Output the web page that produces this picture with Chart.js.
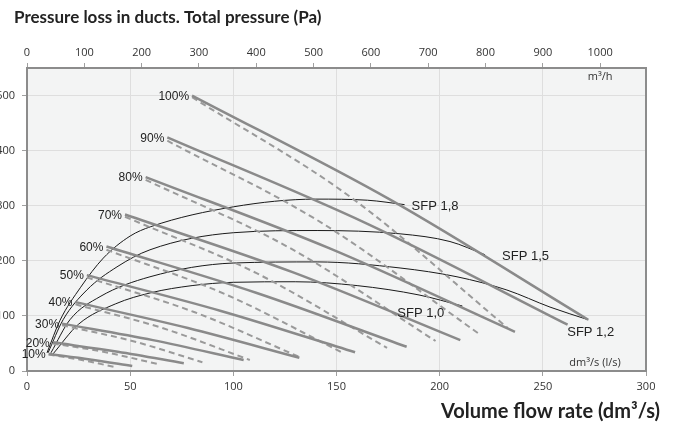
<!DOCTYPE html>
<html>
<head>
<meta charset="utf-8">
<script src="https://cdn.jsdelivr.net/npm/chart.js@4.4.1/dist/chart.umd.min.js"></script>
<style>
  html, body { margin: 0; padding: 0; background: #fff; }
  #wrap { position: relative; width: 675px; height: 428px; overflow: hidden; }
  #chart { position: absolute; left: -15px; top: 0; }
</style>
</head>
<body>
<div id="wrap"><canvas id="chart" width="690" height="428"></canvas></div>
<script>
// Fan curves per control step (solid / dashed) and SFP iso-lines.
const SPEEDS = ["10%", "20%", "30%", "40%", "50%", "60%", "70%", "80%", "90%", "100%"];

// flow in dm3/s, pressure in Pa (start, middle, end)
const SOLID_FLOW = [[10.5, 30.5, 51], [12.5, 44, 76], [17, 61, 105], [23.5, 78, 132], [29, 94, 159],
  [38.5, 111, 184], [47.5, 129, 210], [57.5, 147, 236.5], [68, 165, 262], [80, 176, 272]];
const SOLID_PA = [[31, 21, 9], [52, 35, 14], [86, 56, 20], [125, 78, 24], [174, 109, 34],
  [226, 142, 44], [284, 179, 56], [352, 222, 71], [424, 267, 84], [500, 311, 93]];

const DASHED_FLOW = [[10.5, 26.5, 42.7], [12.5, 37.5, 63], [17, 51, 85], [23.5, 66, 108], [29, 81, 133],
  [38.5, 96, 153], [47.5, 111, 174.5], [57.5, 128, 198], [68, 143, 218.5], [80, 156.5, 233]];
const DASHED_PA = [[30, 20, 7], [50, 34.5, 13], [83, 54.5, 16], [121, 77.5, 20], [170, 107, 24],
  [220, 139.5, 33], [280, 178, 42], [347, 222, 54.5], [418, 268.5, 69], [497, 316.5, 78]];

const SFP_NAMES = ["SFP 1,8", "SFP 1,5", "SFP 1,2", "SFP 1,0"];
const SFP_FLOW = [
  [9.7, 16, 26, 37, 50, 60, 100, 140, 165, 183],
  [10.2, 17.5, 29, 43.6, 59.6, 100, 140.6, 180.8, 205, 222],
  [11.6, 20.8, 35.4, 59.6, 100, 140.6, 180.8, 208.4, 232.6, 253.5, 272],
  [12.6, 25, 43, 60, 80, 100, 130, 160, 190, 211],
];
const SFP_PA = [
  [33, 92, 152, 205, 245, 262, 298, 312, 310, 302],
  [33, 93, 147, 189, 220, 251, 255, 249, 235, 211],
  [33, 93, 135, 171, 196, 198, 187, 171, 147, 116, 93],
  [31, 85, 122, 142, 155, 161, 162, 155, 138, 118],
];

const FLOW_MAX = 300;      // dm3/s
const FLOW_MAX_M3H = 1080; // same span in m3/h
const PA_MAX = 550;

// label offsets (px) from the end of each SFP curve
const SFP_LABEL_OFFSET = [[7, 2], [17, 2], [-21, 13], [-65, 7]];

const pts = (xs, ys) => xs.map((x, i) => ({ x, y: ys[i] }));

const datasets = [];
SPEEDS.forEach((s, i) => {
  datasets.push({ label: s, data: pts(SOLID_FLOW[i], SOLID_PA[i]), borderColor: "#8a8a8a", borderWidth: 2.5 });
  datasets.push({ label: s + " b", data: pts(DASHED_FLOW[i], DASHED_PA[i]), borderColor: "#9a9a9a", borderWidth: 2, borderDash: [6, 4] });
});
SFP_NAMES.forEach((n, i) => {
  datasets.push({ label: n, data: pts(SFP_FLOW[i], SFP_PA[i]), borderColor: "#1a1a1a", borderWidth: 1 });
});
datasets.forEach((d) => Object.assign(d, { showLine: true, pointRadius: 0, cubicInterpolationMode: "monotone", fill: false }));

const overlay = {
  id: "overlay",
  beforeDraw(chart) {
    const { ctx, chartArea: a } = chart;
    ctx.save();
    ctx.fillStyle = "#f3f4f4";
    ctx.fillRect(a.left, a.top, a.right - a.left, a.bottom - a.top);
    ctx.restore();
  },
  afterDraw(chart) {
    const { ctx, chartArea: a, scales } = chart;
    const sx = scales.x, sy = scales.y;
    ctx.save();
    ctx.strokeStyle = "#8c8c8c";
    ctx.lineWidth = 2;
    ctx.strokeRect(a.left, a.top, a.right - a.left, a.bottom - a.top);

    ctx.fillStyle = "#222";
    ctx.textBaseline = "middle";
    ctx.font = "12px 'Liberation Sans', Arial, sans-serif";
    ctx.textAlign = "right";
    SPEEDS.forEach((s, i) => {
      ctx.fillText(s, sx.getPixelForValue(SOLID_FLOW[i][0]) - 3, sy.getPixelForValue(SOLID_PA[i][0]) + 1);
    });
    ctx.font = "13px 'Liberation Sans', Arial, sans-serif";
    ctx.textAlign = "left";
    SFP_NAMES.forEach((n, i) => {
      const last = SFP_FLOW[i].length - 1;
      const [dx, dy] = SFP_LABEL_OFFSET[i];
      ctx.fillText(n, sx.getPixelForValue(SFP_FLOW[i][last]) + dx, sy.getPixelForValue(SFP_PA[i][last]) + dy);
    });

    ctx.font = "11px 'Open Sans', sans-serif";
    ctx.fillStyle = "#333";
    ctx.textAlign = "center";
    ctx.fillText("m³/h", scales.x2.getPixelForValue(1000), a.top + 9);
    ctx.fillText("dm³/s (l/s)", a.right - 51, a.bottom - 8);

    ctx.fillStyle = "#222";
    ctx.textAlign = "left";
    ctx.font = "bold 17px Lato, sans-serif";
    ctx.fillText("Pressure loss in ducts. Total pressure (Pa)", 29, 18);
    ctx.textAlign = "right";
    ctx.font = "bold 20px Lato, sans-serif";
    ctx.fillText("Volume flow rate (dm³/s)", 675, 412);
    ctx.restore();
  },
};

const tickFont = { family: "'Open Sans', sans-serif", size: 11 };
const grid = { color: "#dedede", tickColor: "#a0a0a0", tickLength: 5 };
const plain = (v) => String(v);

new Chart(document.getElementById("chart"), {
  type: "scatter",
  data: { datasets },
  options: {
    responsive: false,
    animation: false,
    layout: { padding: { left: 0, right: 29, top: 0, bottom: 0 } },
    plugins: { legend: { display: false }, tooltip: { enabled: false } },
    scales: {
      x: {
        type: "linear", position: "bottom", min: 0, max: FLOW_MAX,
        ticks: { stepSize: 50, color: "#333", font: tickFont, padding: 4, callback: plain },
        grid, border: { display: false },
        afterFit: (s) => { s.height = 57; },
      },
      x2: {
        type: "linear", position: "top", min: 0, max: FLOW_MAX_M3H,
        ticks: { stepSize: 100, color: "#333", font: tickFont, padding: 4, callback: plain },
        afterBuildTicks: (s) => { s.ticks = s.ticks.filter((t) => t.value <= 1000); },
        grid: { ...grid, drawOnChartArea: false }, border: { display: false },
        afterFit: (s) => { s.height = 68; },
      },
      y: {
        type: "linear", min: 0, max: PA_MAX,
        ticks: { stepSize: 100, color: "#333", font: tickFont, padding: 7, callback: plain },
        afterBuildTicks: (s) => { s.ticks = s.ticks.filter((t) => t.value % 100 === 0); },
        grid, border: { display: false },
        afterFit: (s) => { s.width = 42; },
      },
    },
  },
  plugins: [overlay],
});
</script>
</body>
</html>
